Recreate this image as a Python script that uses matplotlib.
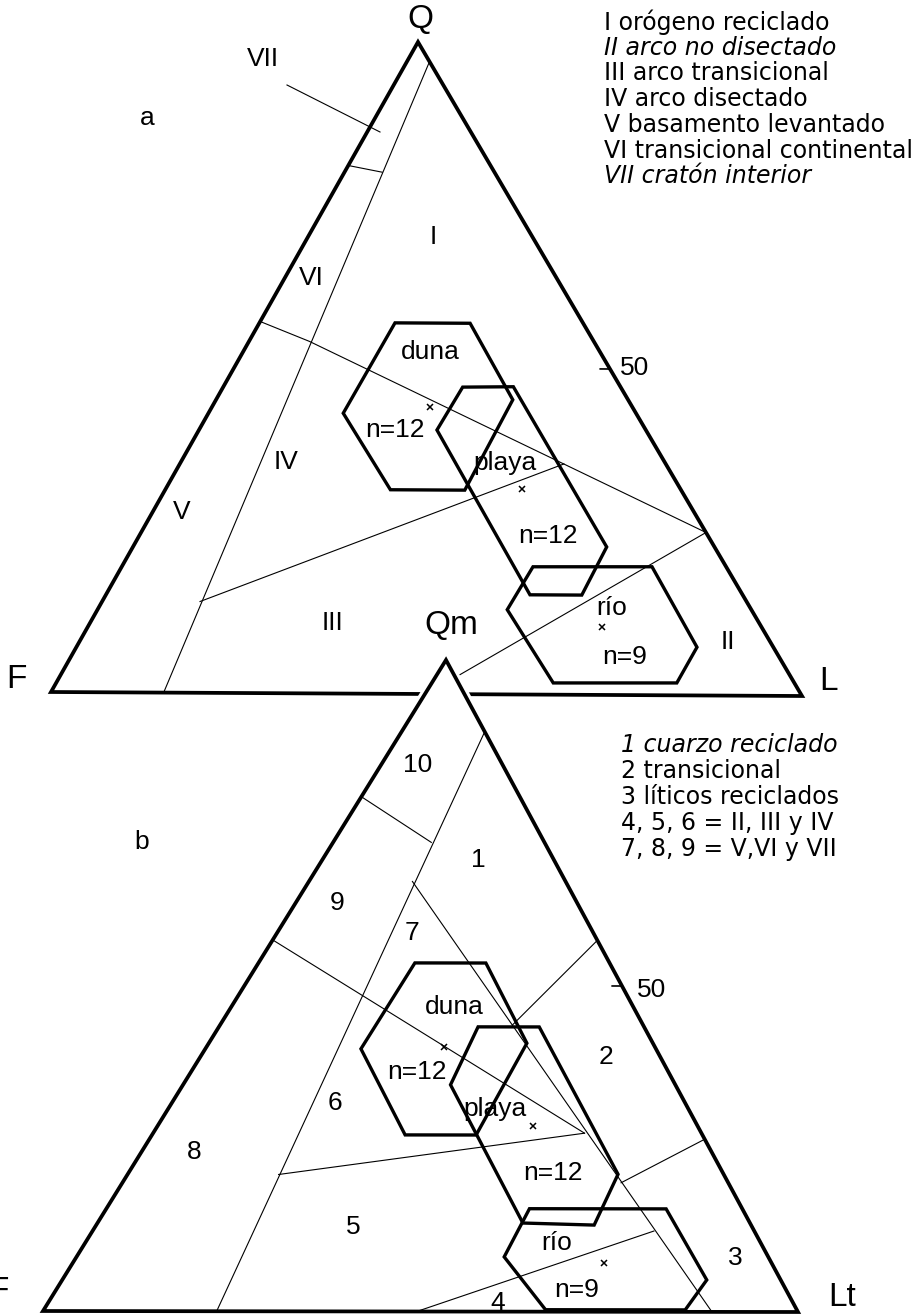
import matplotlib.pyplot as plt
from matplotlib.patches import Polygon

# ---- data: compositions in % (Q, F, L) for the upper QFL diagram ----
qfl_fields = {
    'continental': [(97, 0, 3), (0, 85, 15)],
    'vii_vi': [(81, 19, 0), (80, 15, 5)],
    'vi_v_orogen': [(57, 43, 0), (54, 38, 8), (25, 0, 75)],
    'iv_iii': [(14, 73, 13), (35.4, 13.6, 51)],
    'iii_ii': [(0, 50, 50), (25, 0, 75)],
}
qfl_duna = [(56.9, 25.1, 18.0), (56.9, 15.1, 28.0), (45.2, 15.4, 39.4),
            (31.3, 28.9, 39.8), (31.3, 38.8, 29.9), (43.0, 39.1, 17.9)]
qfl_playa = [(47.1, 21.1, 31.8), (47.2, 14.3, 38.5), (22.7, 14.4, 62.9),
             (15.3, 21.5, 63.2), (15.3, 28.4, 56.3), (40.5, 27.9, 31.6)]
qfl_rio = [(19.6, 25.8, 54.6), (19.7, 9.9, 70.4), (7.4, 10.2, 82.4),
           (1.9, 15.7, 82.4), (1.8, 32.2, 66.0), (13.0, 32.6, 54.4)]
qfl_means = [(44.0, 27.0, 29.0), (31.5, 21.2, 47.3), (10.4, 21.3, 68.3)]

# ---- data: compositions in % (Qm, F, Lt) for the lower QmFLt diagram ----
qmflt_fields = {
    'continental': [(89, 0, 11), (0, 77, 23)],
    'f10_9': [(79, 21, 0), (72, 15, 13)],
    'f9_8': [(57, 43, 0), (27.4, 15.5, 57.1)],
    'f7_1': [(66, 20.3, 13.7), (0, 11.4, 88.6)],
    'f1_2': [(44, 17.3, 38.7), (57, 0, 43)],
    'f2_3': [(19.8, 14.2, 66), (26.5, 0, 73.5)],
    'f4_5': [(0, 50.5, 49.5), (12.4, 13.3, 74.3)],
    'f6_5': [(21, 59, 20), (27.4, 15.5, 57.1)],
}
qm_duna = [(53.5, 25.8, 20.7), (53.5, 16.4, 30.1), (41.2, 16.7, 42.1),
           (27.1, 30.0, 42.9), (27.1, 39.4, 33.5), (40.3, 39.1, 20.6)]
qm_playa = [(43.7, 22.0, 34.3), (43.7, 13.9, 42.4), (21.1, 14.0, 64.9),
            (13.3, 20.8, 65.9), (13.6, 30.1, 56.3), (34.8, 29.8, 35.4)]
qm_rio = [(15.8, 28.2, 56.0), (15.8, 10.1, 74.1), (4.9, 9.8, 85.3),
          (0.3, 14.8, 84.9), (0.3, 33.3, 66.4), (8.4, 35.0, 56.6)]
qm_means = [(40.6, 28.0, 31.4), (28.5, 21.8, 49.7), (7.5, 22.2, 70.3)]

tick_value = 50

top_legend = ['I orógeno reciclado', 'II arco no disectado', 'III arco transicional',
              'IV arco disectado', 'V basamento levantado',
              'VI transicional continental', 'VII cratón interior']
top_italic = [False, True, False, False, False, False, True]
bot_legend = ['1 cuarzo reciclado', '2 transicional', '3 líticos reciclados',
              '4, 5, 6 = II, III y IV', '7, 8, 9 = V,VI y VII']
bot_italic = [True, False, False, False, False]

# triangle corners on the page (pixels): apex, lower left, lower right
TOP = [(418, 42), (51, 692), (802, 696)]
BOT = [(446, 660), (43, 1311), (798, 1312)]


def tern(tri, pts):
    xs, ys = [], []
    for q, f, l in pts:
        s = float(q + f + l)
        xs.append((q * tri[0][0] + f * tri[1][0] + l * tri[2][0]) / s)
        ys.append((q * tri[0][1] + f * tri[1][1] + l * tri[2][1]) / s)
    return xs, ys


fig = plt.figure(figsize=(9.16, 13.16), dpi=100)
ax = fig.add_axes([0, 0, 1, 1])
ax.set_xlim(0, 916)
ax.set_ylim(1316, 0)
ax.axis('off')

FONT = 'Liberation Sans'
THIN = 0.8
THICK = 2.4


def diagram(tri, fields, hexes, means, z):
    for pts in fields.values():
        x, y = tern(tri, pts)
        ax.plot(x, y, color='black', lw=THIN, zorder=z + 1)
    for h in hexes:
        x, y = tern(tri, h)
        ax.add_patch(Polygon(list(zip(x, y)), closed=True, fill=False,
                             ec='black', lw=THICK, joinstyle='miter', zorder=z + 2))
    x, y = tern(tri, means)
    ax.plot(x, y, 'x', color='black', ms=5, mew=1.1, zorder=z + 3)
    # triangle frame
    ax.add_patch(Polygon(tri, closed=True, fill=False, ec='black', lw=2.7,
                         joinstyle='miter', zorder=z + 2))
    # 50 % tick on the right edge
    x, y = tern(tri, [(tick_value, 0, 100 - tick_value),
                      (tick_value, 1.3, 100 - tick_value - 1.3)])
    ax.plot(x, y, color='black', lw=1.2, zorder=z + 2)


diagram(TOP, qfl_fields, [qfl_duna, qfl_playa, qfl_rio], qfl_means, 1)

# lower triangle masks the upper one where they touch
ax.add_patch(Polygon(BOT, closed=True, fc='white', ec='white', lw=7, zorder=10))
diagram(BOT, qmflt_fields, [qm_duna, qm_playa, qm_rio], qm_means, 11)

# leader line for VII
ax.plot([287, 380], [85, 132], color='black', lw=THIN, zorder=3)


def lab(x, y, s, size=19, **kw):
    ax.text(x, y, s, ha='center', va='center', fontsize=size, family=FONT,
            zorder=20, **kw)


# corner labels
lab(420, 20, 'Q', 24)
lab(16, 680, 'F', 24)
lab(828, 682, 'L', 24)
lab(451, 626, 'Qm', 24)
ax.text(9, 1292, 'F', ha='right', va='center', fontsize=24, family=FONT, zorder=20)
lab(842, 1298, 'Lt', 24)

lab(147, 118, 'a', 19)
lab(142, 842, 'b', 19)

# upper field labels
for x, y, s in [(263, 59, 'VII'), (433, 237, 'I'), (311, 278, 'VI'),
                (286, 462, 'IV'), (182, 512, 'V'), (333, 623, 'III'),
                (728, 642, 'II'), (635, 368, '50')]:
    lab(x, y, s)
for x, y, s in [(430, 352, 'duna'), (395, 430, 'n=12'), (505, 463, 'playa'),
                (548, 536, 'n=12'), (612, 608, 'río'), (625, 657, 'n=9')]:
    lab(x, y, s)

# lower field labels
for x, y, s in [(418, 765, '10'), (337, 903, '9'), (412, 933, '7'),
                (478, 860, '1'), (194, 1152, '8'), (335, 1103, '6'),
                (353, 1227, '5'), (498, 1303, '4'), (606, 1057, '2'),
                (735, 1258, '3'), (652, 990, '50')]:
    lab(x, y, s)
for x, y, s in [(454, 1007, 'duna'), (417, 1072, 'n=12'), (495, 1109, 'playa'),
                (553, 1173, 'n=12'), (557, 1243, 'río'), (577, 1290, 'n=9')]:
    lab(x, y, s)

# legends
for i, (s, it) in enumerate(zip(top_legend, top_italic)):
    ax.text(604, 22 + i * 25.7, s, ha='left', va='center', fontsize=17,
            family='DejaVu Sans', style='italic' if it else 'normal', zorder=20)
for i, (s, it) in enumerate(zip(bot_legend, bot_italic)):
    ax.text(621, 745 + i * 26, s, ha='left', va='center', fontsize=17,
            family='DejaVu Sans', style='italic' if it else 'normal', zorder=20)

fig.savefig('out.png', dpi=100)
